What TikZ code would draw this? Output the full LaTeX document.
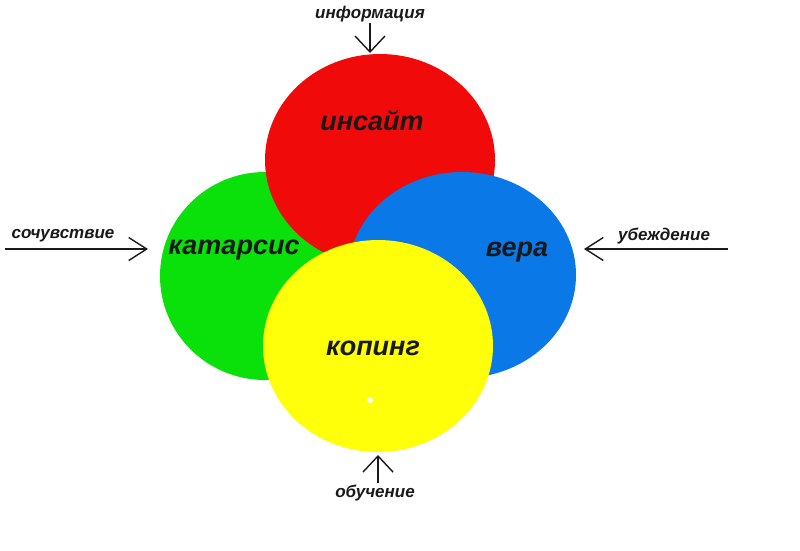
\documentclass[tikz,border=0pt]{standalone}
\usepackage{fontspec}
\setmainfont{Liberation Sans}
\usetikzlibrary{arrows.meta}
\usepackage{xcolor}

\definecolor{insred}{RGB}{240,10,10}
\definecolor{katgreen}{RGB}{10,225,10}
\definecolor{verblue}{RGB}{10,120,230}
\definecolor{copyellow}{RGB}{255,255,10}
\definecolor{inktext}{RGB}{25,25,25}

\begin{document}
\begin{tikzpicture}[x=1pt,y=1pt,yscale=-1,
    bigword/.style={inner sep=0pt,text=inktext,font=\fontsize{27}{30}\selectfont\bfseries\itshape},
    smallword/.style={inner sep=0pt,text=inktext,font=\fontsize{17}{19}\selectfont\bfseries\itshape},
    inflow/.style={draw=inktext,line width=1.4pt,-{Straight Barb[length=16pt,width=30pt,line width=1.4pt]}},
    sideflow/.style={draw=inktext,line width=1.4pt,-{Straight Barb[length=18pt,width=23pt,line width=1.4pt]}}]
        \useasboundingbox (0,0) rectangle (800,550);
        \fill [white] (0,0) rectangle (800,550);

        %Shape: Ellipse, green
        \fill [katgreen] (265,276) ellipse [x radius=105, y radius=104];
        %Shape: Ellipse, red
        \fill [insred] (380,160) ellipse [x radius=115, y radius=106];
        %Shape: Ellipse, blue
        \fill [verblue] (462,275) ellipse [x radius=114, y radius=103];
        %Shape: Ellipse, yellow
        \fill [copyellow] (378,346) ellipse [x radius=115, y radius=106];
        %Shape: Circle, white speck
        \fill [white] (370,400) circle [radius=3];

        % Text Node
        \node (insight) [bigword] at (372,121) {инсайт};
        \node (katharsis) [bigword] at (234,250) {катарсис};
        \node (faith) [bigword] at (517,252) {вера};
        \node (coping) [bigword] at (373,348) {копинг};

        % Text Node
        \node (info) [smallword] at (370,14) {информация};
        \node (learning) [smallword] at (375,493) {обучение};
        \node (empathy) [smallword] at (63,236) {сочувствие};
        \node (persuasion) [smallword] at (664,236) {убеждение};

        % Arrows
        \coordinate (infoS) at (370,23);
        \coordinate (infoE) at (370,53);
        \coordinate (learnS) at (378,483);
        \coordinate (learnE) at (378,455);
        \coordinate (empS) at (5,249);
        \coordinate (empE) at (148,249);
        \coordinate (persS) at (728,249);
        \coordinate (persE) at (584,249);
        \draw [inflow] (infoS) -- (infoE);
        \draw [inflow] (learnS) -- (learnE);
        \draw [sideflow] (empS) -- (empE);
        \draw [sideflow] (persS) -- (persE);
\end{tikzpicture}
\end{document}
